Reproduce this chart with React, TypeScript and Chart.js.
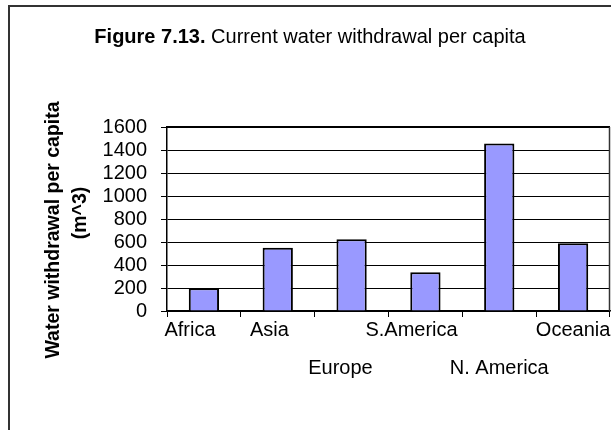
import React, { useEffect, useRef } from "react";
import { Chart, registerables } from "chart.js";

Chart.register(...registerables);

const categories: (string | string[])[] = [
  "Africa",
  "Asia",
  ["", "", "Europe"],
  "S.America",
  ["", "", "N. America"],
  "Oceania",
];
const withdrawal: number[] = [197, 550, 625, 338, 1457, 590];
const yTickValues: number[] = [0, 200, 400, 600, 800, 1000, 1200, 1400, 1600];
const titleBold = "Figure 7.13.";
const titleRest = " Current water withdrawal per capita";
const yTitle: string[] = ["Water withdrawal per capita", "(m^3)"];

const FONT = "'Liberation Sans', Arial, Helvetica, sans-serif";
const FS = 20;
// nudge (in spaces) to mimic the original label placement
const labelNudge = [5, 3, 4, 5, 0, 0];

const decorPlugin = {
  id: "decor",
  beforeDraw(chart: any) {
    const ctx = chart.ctx;
    ctx.save();
    ctx.fillStyle = "#ffffff";
    ctx.fillRect(0, 0, chart.width, chart.height);
    ctx.strokeStyle = "#333333";
    ctx.lineWidth = 2;
    ctx.strokeRect(9, 6, 800, 600);
    ctx.restore();
  },
  afterDraw(chart: any) {
    const ctx = chart.ctx;
    const a = chart.chartArea;
    ctx.save();
    ctx.strokeStyle = "#000000";
    ctx.lineWidth = 2;
    ctx.beginPath();
    ctx.moveTo(a.left, a.top);
    ctx.lineTo(a.right, a.top);
    ctx.stroke();
    ctx.lineWidth = 1.5;
    ctx.strokeStyle = "#333333";
    ctx.beginPath();
    ctx.moveTo(a.right - 0.5, a.top);
    ctx.lineTo(a.right - 0.5, a.bottom);
    ctx.stroke();
    // title
    ctx.fillStyle = "#000000";
    ctx.textBaseline = "middle";
    ctx.textAlign = "left";
    ctx.font = `bold ${FS}px ${FONT}`;
    const wb = ctx.measureText(titleBold).width;
    ctx.font = `${FS}px ${FONT}`;
    const wr = ctx.measureText(titleRest).width;
    const x0 = 310 - (wb + wr) / 2;
    ctx.font = `bold ${FS}px ${FONT}`;
    ctx.fillText(titleBold, x0, 37);
    ctx.font = `${FS}px ${FONT}`;
    ctx.fillText(titleRest, x0 + wb, 37);
    // y axis title (two centred lines, rotated)
    ctx.font = `bold 19.5px ${FONT}`;
    ctx.textAlign = "center";
    ctx.translate(54, 230);
    ctx.rotate(-Math.PI / 2);
    ctx.fillText(yTitle[0], 0, 0);
    ctx.fillText(yTitle[1], 230 - 213, 27);
    ctx.restore();
  },
};

export default function App() {
  const ref = useRef<HTMLCanvasElement | null>(null);
  useEffect(() => {
    if (!ref.current) return;
    const chart = new Chart(ref.current, {
      type: "bar",
      data: {
        labels: categories,
        datasets: [
          {
            data: withdrawal,
            backgroundColor: "#9999ff",
            borderColor: "#000000",
            borderWidth: 2,
            barPercentage: 0.41,
            categoryPercentage: 1,
          },
        ],
      },
      options: {
        animation: false,
        responsive: true,
        maintainAspectRatio: false,
        layout: { padding: { left: 0, right: 1, top: 127, bottom: 0 } },
        plugins: {
          legend: { display: false },
          tooltip: { enabled: false },
          title: { display: false },
        },
        scales: {
          x: {
            offset: true,
            grid: {
              display: true,
              offset: true,
              drawOnChartArea: false,
              color: "#000000",
              tickLength: 6,
              tickColor: "#000000",
            },
            border: { display: true, color: "#000000", width: 1.5 },
            ticks: {
              autoSkip: false,
              maxRotation: 0,
              minRotation: 0,
              padding: 4,
              color: "#000000",
              font: { family: FONT, size: FS, lineHeight: 0.95 },
              callback(this: any, value: any, index: number) {
                const lbl = categories[index];
                const pad = "\u00a0".repeat(labelNudge[index] || 0);
                if (Array.isArray(lbl)) {
                  return lbl.map((s, i) => (i === lbl.length - 1 ? s + pad : s));
                }
                return lbl + pad;
              },
            },
            afterFit(scale: any) {
              scale.height = 119;
              scale.paddingLeft = 0;
              scale.paddingRight = 0;
            },
          },
          y: {
            min: 0,
            max: 1600,
            afterBuildTicks(scale: any) {
              scale.ticks = yTickValues.map((v) => ({ value: v }));
            },
            ticks: {
              autoSkip: false,
              padding: 14,
              color: "#000000",
              font: { family: FONT, size: FS },
              callback: (v: any) => String(v),
            },
            grid: {
              color: "#000000",
              lineWidth: 1,
              tickLength: 6,
            },
            border: { display: true, color: "#000000", width: 1.5 },
            title: { display: false },
            afterFit(scale: any) {
              scale.width = 167;
              scale.paddingTop = 0;
              scale.paddingBottom = 0;
            },
          },
        },
      },
      plugins: [decorPlugin],
    });
    return () => chart.destroy();
  }, []);
  return (
    <div
      style={{
        position: "absolute",
        left: 0,
        top: 0,
        width: 611,
        height: 430,
        overflow: "hidden",
        background: "#ffffff",
      }}
    >
      <canvas ref={ref} />
    </div>
  );
}
